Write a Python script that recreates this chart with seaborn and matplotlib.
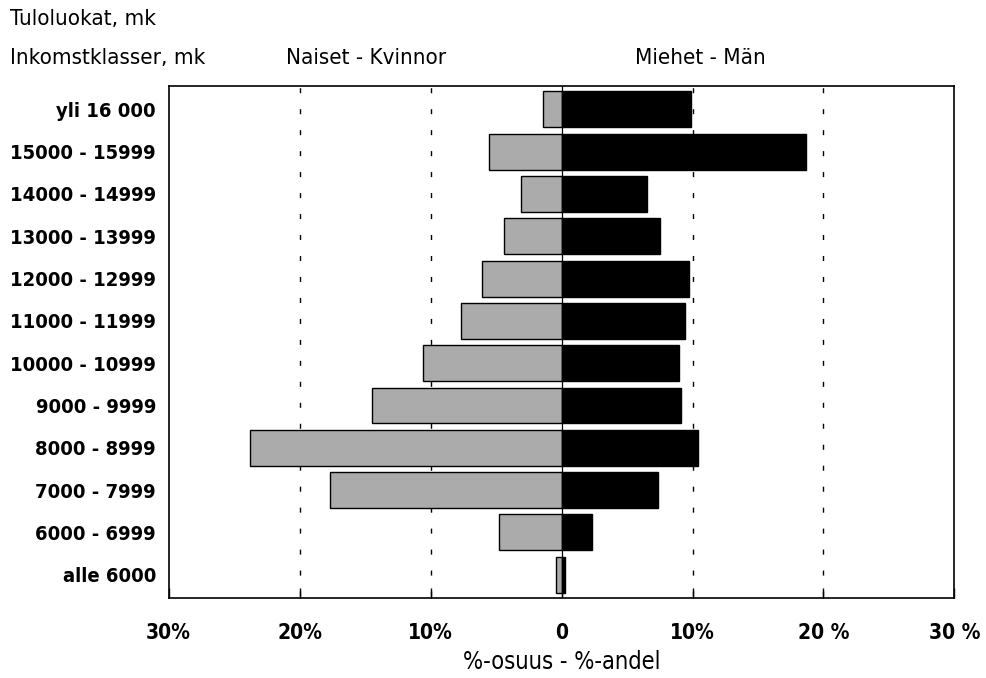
import matplotlib
matplotlib.use("Agg")
import matplotlib.pyplot as plt
import seaborn as sns
import pandas as pd
import numpy as np

categories = ["yli 16 000", "15000 - 15999", "14000 - 14999", "13000 - 13999",
              "12000 - 12999", "11000 - 11999", "10000 - 10999", "9000 - 9999",
              "8000 - 8999", "7000 - 7999", "6000 - 6999", "alle 6000"]
women = [1.4, 5.5, 3.1, 4.4, 6.1, 7.7, 10.6, 14.5, 23.8, 17.7, 4.8, 0.4]
men = [9.9, 18.7, 6.5, 7.5, 9.7, 9.4, 9.0, 9.1, 10.4, 7.4, 2.3, 0.25]
tick_values = [-30, -20, -10, 0, 10, 20, 30]
tick_labels = ["30%", "20%", "10%", "0", "10%", "20 %", "30 %"]
grid_values = [-20, -10, 10, 20]

sns.set_theme(style="white")
plt.rcParams['font.family'] = ['DejaVu Sans']
plt.rcParams['text.color'] = 'black'
plt.rcParams['xtick.color'] = 'black'
plt.rcParams['ytick.color'] = 'black'
plt.rcParams['axes.labelcolor'] = 'black'

df = pd.DataFrame({
    "luokka": categories * 2,
    "osuus": [-w for w in women] + men,
    "sukupuoli": ["Naiset"] * len(categories) + ["Miehet"] * len(categories),
})

fig = plt.figure(figsize=(9.86, 6.78), dpi=100)
ax = fig.add_axes([0.171, 0.118, 0.797, 0.755])

for g in grid_values:
    ax.axvline(g, color="black", lw=1.0, ls=(13.7, (3.6, 11.5)), zorder=0)

sns.barplot(data=df, y="luokka", x="osuus", hue="sukupuoli", dodge=False,
            palette={"Naiset": "#ababab", "Miehet": "#000000"},
            order=categories, width=0.85, edgecolor="black", linewidth=1.0,
            legend=False, ax=ax, zorder=2)

ax.axvline(0, color="black", lw=0.9, zorder=3)
ax.set_xlim(-30, 30)
ax.set_ylim(len(categories) - 0.45, -0.55)
ax.set_xticks(tick_values)
ax.set_xticklabels(tick_labels, fontsize=15, fontweight="bold", fontstretch="condensed")
for lbl in ax.get_yticklabels():
    lbl.set_fontsize(14.5)
    lbl.set_fontweight("bold")
    lbl.set_fontstretch("condensed")
ax.tick_params(axis="x", direction="in", length=7, width=1, color="black", pad=18, bottom=True)
ax.tick_params(axis="y", length=0, pad=9)
ax.set_xlabel("%-osuus - %-andel", fontsize=17, labelpad=5, fontstretch="condensed")
ax.set_ylabel("")
for s in ax.spines.values():
    s.set_color("black")
    s.set_linewidth(1.2)

hdr = dict(fontsize=16, fontstretch="condensed", va="center", color="black")
fig.text(0.010, 0.972, "Tuloluokat, mk", ha="left", **hdr)
fig.text(0.010, 0.914, "Inkomstklasser, mk", ha="left", **hdr)
fig.text(0.371, 0.914, "Naiset - Kvinnor", ha="center", **hdr)
fig.text(0.710, 0.914, "Miehet - Män", ha="center", **hdr)

fig.savefig("out.png", dpi=100, facecolor="white")
